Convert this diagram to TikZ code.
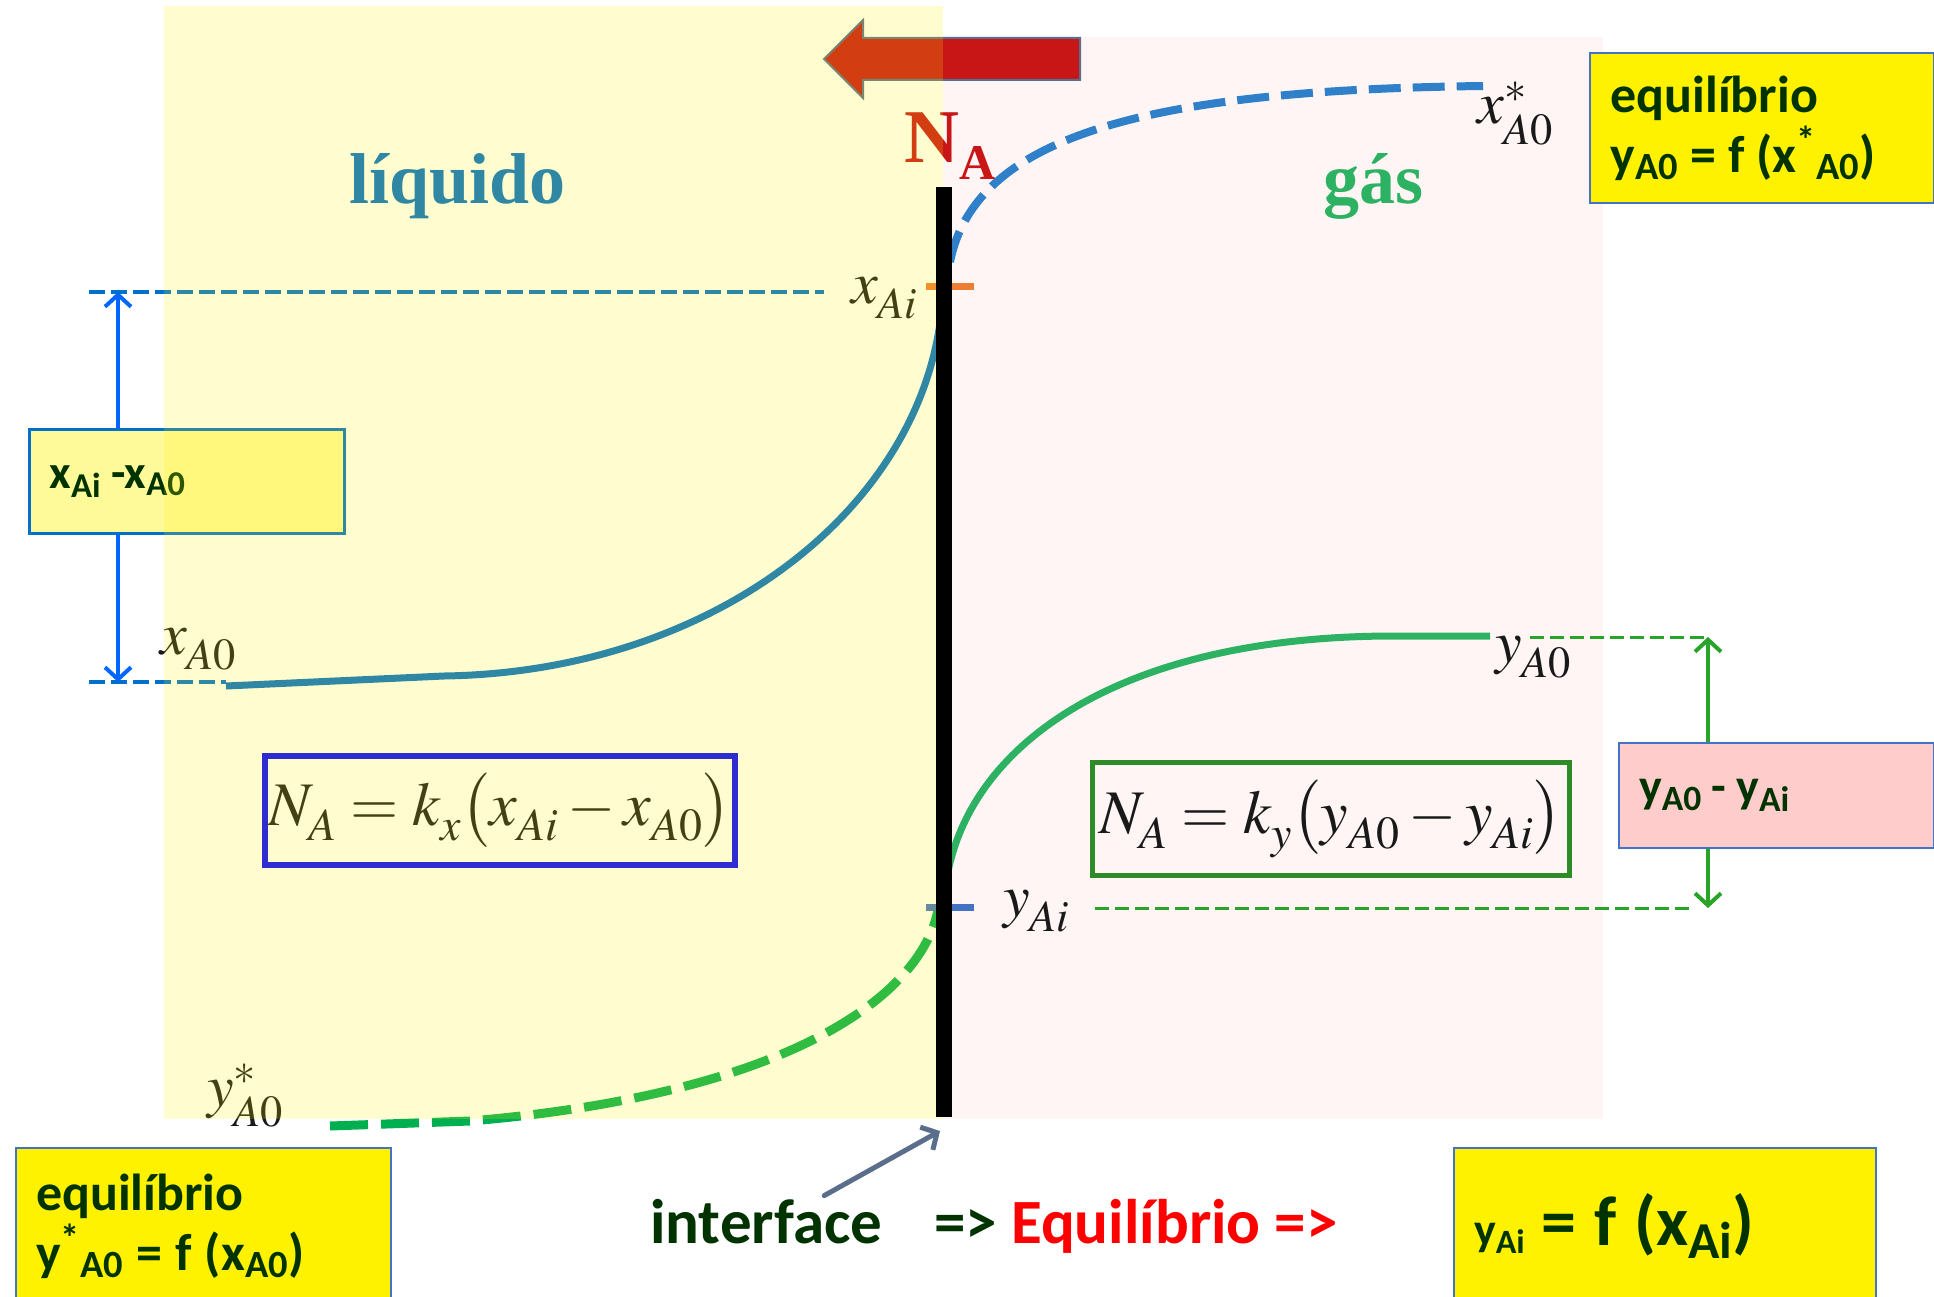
\documentclass[tikz,border=0pt]{standalone}
\usepackage{mathptmx}
\usepackage[no-math]{fontspec}
\setmainfont{Liberation Serif}
\newfontfamily\carlito{Carlito}
\usepackage{tikz}
\usetikzlibrary{arrows.meta, positioning, calc}

\definecolor{liqblue}{RGB}{0,112,200}
\definecolor{gasgreen}{RGB}{44,178,98}
\definecolor{eqgreen}{RGB}{0,176,80}
\definecolor{darkgrn}{RGB}{0,51,0}
\definecolor{boxblue}{RGB}{68,114,196}
\definecolor{arrowblue}{RGB}{0,102,255}
\definecolor{curveblue}{RGB}{47,128,200}
\definecolor{linegreen}{RGB}{40,165,40}
\definecolor{frmgreen}{RGB}{46,139,40}
\definecolor{tickorange}{RGB}{237,125,49}
\definecolor{nared}{RGB}{200,22,22}
\definecolor{gaspink}{RGB}{255,245,245}
\definecolor{diffpink}{RGB}{255,204,204}
\definecolor{pointgray}{RGB}{90,110,140}
\definecolor{lbltext}{RGB}{25,25,25}

% lowered subscript, as in the equation editor
\newcommand{\dsub}[1]{_{\lower6pt\hbox{$\scriptstyle #1$}}}

\begin{document}
\begin{tikzpicture}[
    x=1pt, y=-1pt,
    lbl/.style={anchor=base west, inner sep=0pt, text=lbltext, font=\fontsize{60}{60}\selectfont},
    phase/.style={anchor=base west, inner sep=0pt, font=\bfseries\fontsize{72}{72}\selectfont},
    ybox/.style={draw=boxblue, line width=2pt, fill=yellow, text=darkgrn, align=left, anchor=north west, inner xsep=20pt, font=\carlito\bfseries\fontsize{52}{60}\selectfont},
    frm/.style={line width=5pt, font=\fontsize{62}{62}\selectfont, text=lbltext},
    bottomtxt/.style={anchor=base west, inner sep=3pt, text=darkgrn, font=\carlito\bfseries\fontsize{63}{63}\selectfont},
    >={Straight Barb[length=12pt, width=26pt]}
]
  \useasboundingbox (0,0) rectangle (1934,1297);

  % gas side
  \fill[gaspink] (943,37) rectangle (1603,1119);

  % flux of A
  \draw[fill=nared, draw=pointgray, line width=2pt] (824,59) -- (863,20) -- (863,38) -- (1080,38) -- (1080,80) -- (863,80) -- (863,98) -- cycle;
  \node[anchor=base west, inner sep=0pt, text=nared, font=\bfseries\fontsize{76}{76}\selectfont] (NA) at (904,163) {N\raisebox{-17pt}{\fontsize{50}{50}\selectfont A}};

  \node[phase, text=liqblue] (liq) at (349,204) {líquido};
  \node[phase, text=gasgreen] (gas) at (1323,204) {gás};

  % profiles
  \draw[liqblue, line width=7pt] (226,686) -- (444,676) .. controls (720,672) and (935,500) .. (943,290);
  \draw[gasgreen, line width=7pt] (1490,636) -- (1394,636) .. controls (1100,636) and (950,760) .. (944,905);
  \draw[curveblue, line width=8pt, dash pattern=on 32pt off 12pt] (950,262) .. controls (975,135) and (1150,90) .. (1483,86);
  \draw[eqgreen, line width=9pt, dash pattern=on 38pt off 13pt] (330,1126) -- (470,1121) .. controls (780,1095) and (920,1000) .. (938,910);

  \draw[liqblue, line width=4pt, dash pattern=on 16pt off 6pt] (89,292) -- (824,292);
  \draw[liqblue, line width=4pt, dash pattern=on 16pt off 6pt] (89,682) -- (226,682);
  \draw[linegreen, line width=3pt, dash pattern=on 14pt off 6pt] (1530,637) -- (1708,637);
  \draw[linegreen, line width=3pt, dash pattern=on 14pt off 6pt] (1095,908) -- (1692,908);

  \draw[tickorange, line width=7pt] (926,286) -- (974,286);
  \draw[boxblue, line width=7pt] (926,907) -- (974,907);

  \node[lbl] (xAi) at (851,303) {$x\dsub{Ai}$};
  \node[lbl] (xA0) at (160,654) {$x\dsub{A0}$};
  \node[lbl] (xsA0) at (1477,124) {$x^{*}\dsub{A0}$};
  \node[lbl] (yA0) at (1495,662) {$y\dsub{A0}$};
  \node[lbl] (yAi) at (1003,916) {$y\dsub{Ai}$};
  \node[lbl] (ysA0) at (207,1106) {$y^{*}\dsub{A0}$};

  % driving forces
  \coordinate (xAiL) at (118,292);
  \coordinate (xA0L) at (118,682);
  \draw[<->, arrowblue, line width=4pt] (xAiL) -- (xA0L);
  \node[draw=liqblue, line width=3pt, fill=yellow!40, text=darkgrn, anchor=north west, align=left,
        minimum width=315pt, minimum height=104pt, text width=275pt, inner xsep=20pt,
        font=\carlito\bfseries\fontsize{47}{47}\selectfont] (dx) at (28,428) {x\textsubscript{Ai}\hspace{10pt}-x\textsubscript{A0}};

  \coordinate (yA0R) at (1708,637);
  \coordinate (yAiR) at (1708,908);
  \draw[<->, linegreen, line width=4pt] (yA0R) -- (yAiR);
  \node[draw=boxblue, line width=2pt, fill=diffpink, text=darkgrn, anchor=north west, align=left,
        minimum width=315pt, minimum height=105pt, text width=275pt, inner xsep=20pt,
        font=\carlito\bfseries\fontsize{48}{48}\selectfont] (dy) at (1618,742) {y\textsubscript{A0}\hspace{10pt}-\hspace{10pt}y\textsubscript{Ai}};

  % rate equations
  \node[frm, draw=blue, line width=6pt, minimum width=468pt, minimum height=109pt] (fluxliq) at (500,810)
    {$N\dsub{A}=k\dsub{x}\bigl(x\dsub{Ai}-x\dsub{A0}\bigr)$};
  \node[frm, draw=frmgreen, minimum width=477pt, minimum height=113pt] (fluxgas) at (1331,819)
    {$N\dsub{A}=k\dsub{y}\bigl(y\dsub{A0}-y\dsub{Ai}\bigr)$};

  % equilibrium boxes
  \node[ybox, minimum width=344pt, minimum height=150pt, text width=303pt] (eqtop) at (1589,52)
    {equilíbrio\\y\textsubscript{A0}\hspace{12pt}=\hspace{12pt}f\hspace{12pt}(x\textsuperscript{*}\textsubscript{A0})};
  \node[ybox, minimum width=375pt, minimum height=156pt, text width=335pt] (eqleft) at (15,1147)
    {equilíbrio\\y\textsuperscript{*}\textsubscript{A0}\hspace{13pt}=\hspace{13pt}f\hspace{13pt}(x\textsubscript{A0})};
  \node[ybox, minimum width=422pt, minimum height=156pt, text width=382pt, font=\carlito\bfseries\fontsize{70}{80}\selectfont] (eqright) at (1453,1147)
    {{\fontsize{46}{50}\selectfont y\textsubscript{Ai}}\hspace{16pt}=\hspace{18pt}f\hspace{18pt}(x\textsubscript{Ai})};

  % liquid side
  \fill[yellow, fill opacity=0.185] (164,6) rectangle (943,1119);

  % interface
  \coordinate (ifTop) at (944,187);
  \coordinate (ifBot) at (944,1117);
  \draw[line width=16pt] (ifTop) -- (ifBot);

  \node[bottomtxt] (iftext) at (647,1243) {interface};
  \node[bottomtxt] (eqtext) at (931,1243) {=> \textcolor{red}{Equilíbrio =>}};
  \draw[->, pointgray, line width=5pt, line cap=round] ([xshift=58pt]iftext.north) -- ([shift={(-4pt,-14pt)}]ifBot);
\end{tikzpicture}
\end{document}
